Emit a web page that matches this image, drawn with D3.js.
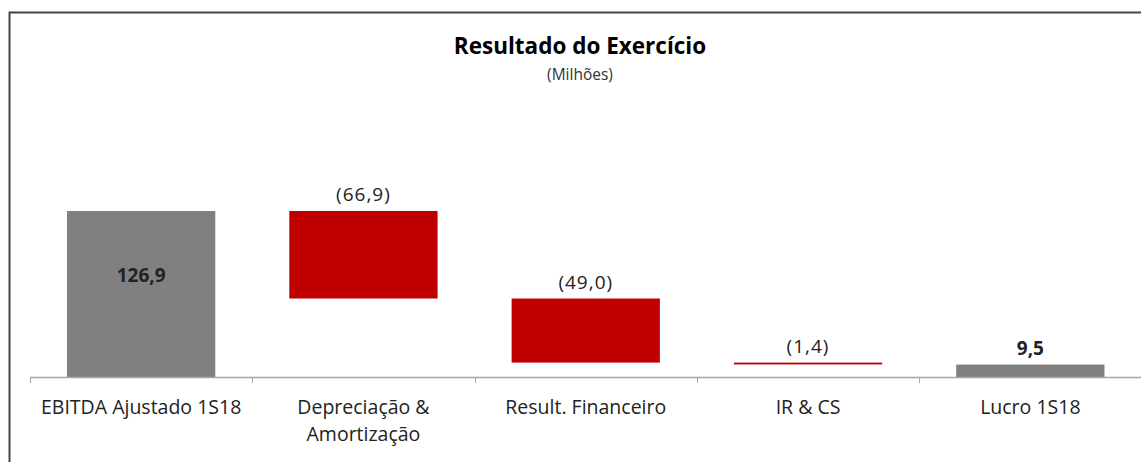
<!DOCTYPE html>
<html>
<head>
<meta charset="utf-8">
<script src="https://cdn.jsdelivr.net/npm/d3@7"></script>
<style>
  body { margin: 0; background: #fff; }
  svg { font-family: "Open Sans", "Noto Sans", sans-serif; }
</style>
</head>
<body>
<svg id="chart" width="1141" height="462"></svg>
<script>
// waterfall data
const categories = ["EBITDA Ajustado 1S18", "Depreciação &\nAmortização", "Result. Financeiro", "IR & CS", "Lucro 1S18"];
const values = [126.9, -66.9, -49.0, -1.4, 9.5];
const kinds = ["total", "delta", "delta", "delta", "total"];
const valueLabels = ["126,9", "(66,9)", "(49,0)", "(1,4)", "9,5"];

const svg = d3.select("#chart");

// frame
svg.append("rect")
  .attr("x", 9.5).attr("y", 12.5)
  .attr("width", 1160).attr("height", 470)
  .attr("fill", "none")
  .attr("stroke", "#444")
  .attr("stroke-width", 2);

// running totals for the floating bars
let running = 0;
const bars = categories.map((c, i) => {
  let y0, y1;
  if (kinds[i] === "total") {
    y0 = 0; y1 = values[i]; running = values[i];
  } else {
    y0 = running; y1 = running + values[i]; running = y1;
  }
  return { cat: c, y0, y1, kind: kinds[i], label: valueLabels[i], neg: values[i] < 0 };
});

const x = d3.scaleBand().domain(categories).range([30, 1141.5]).paddingInner(0.333).paddingOuter(0.1665);
const y = d3.scaleLinear().domain([0, 126.9]).range([377, 211]);

// title
svg.append("text")
  .attr("x", 580).attr("y", 54)
  .attr("text-anchor", "middle")
  .attr("font-size", 22.5).attr("font-weight", "bold")
  .attr("fill", "#000")
  .text("Resultado do Exercício");
svg.append("text")
  .attr("x", 580).attr("y", 80)
  .attr("text-anchor", "middle")
  .attr("font-size", 15.5)
  .attr("fill", "#333")
  .text("(Milhões)");

// bars
svg.append("g").selectAll("rect")
  .data(bars)
  .join("rect")
  .attr("x", d => x(d.cat))
  .attr("width", x.bandwidth())
  .attr("y", d => y(Math.max(d.y0, d.y1)))
  .attr("height", d => Math.max(1.5, Math.abs(y(d.y0) - y(d.y1))))
  .attr("fill", d => d.kind === "total" ? "#808080" : "#c00000");

// axis
const band = x.step();
const ticks = d3.range(categories.length + 1).map(i => 30 + i * band);
const axis = svg.append("g");
axis.append("line")
  .attr("x1", 30).attr("x2", 1141)
  .attr("y1", 377.5).attr("y2", 377.5)
  .attr("stroke", "#a6a6a6").attr("stroke-width", 1.3);
axis.selectAll("line.tick")
  .data(ticks)
  .join("line")
  .attr("class", "tick")
  .attr("x1", d => Math.round(d) + 0.5).attr("x2", d => Math.round(d) + 0.5)
  .attr("y1", 377).attr("y2", 383)
  .attr("stroke", "#a6a6a6");

// category labels
svg.append("g").selectAll("text")
  .data(categories)
  .join("text")
  .attr("x", d => x(d) + x.bandwidth() / 2)
  .attr("y", 414)
  .attr("text-anchor", "middle")
  .attr("font-size", 19.5)
  .attr("fill", "#222")
  .each(function (d) {
    const t = d3.select(this);
    d.split("\n").forEach((line, i) => {
      t.append("tspan")
        .attr("x", x(d) + x.bandwidth() / 2)
        .attr("dy", i === 0 ? 0 : 27)
        .text(line);
    });
  });

// value labels (first total sits inside its bar, the rest above)
svg.append("g").selectAll("text")
  .data(bars)
  .join("text")
  .attr("x", d => x(d.cat) + x.bandwidth() / 2)
  .attr("y", d => {
    const top = y(Math.max(d.y0, d.y1));
    if (d.cat === categories[0]) return top + 71;
    return top - 10;
  })
  .attr("text-anchor", "middle")
  .attr("font-size", 19)
  .attr("letter-spacing", d => d.kind === "total" ? 0 : 1)
  .attr("font-weight", d => d.kind === "total" ? "bold" : "normal")
  .attr("fill", "#222")
  .text(d => d.label);
</script>
</body>
</html>
